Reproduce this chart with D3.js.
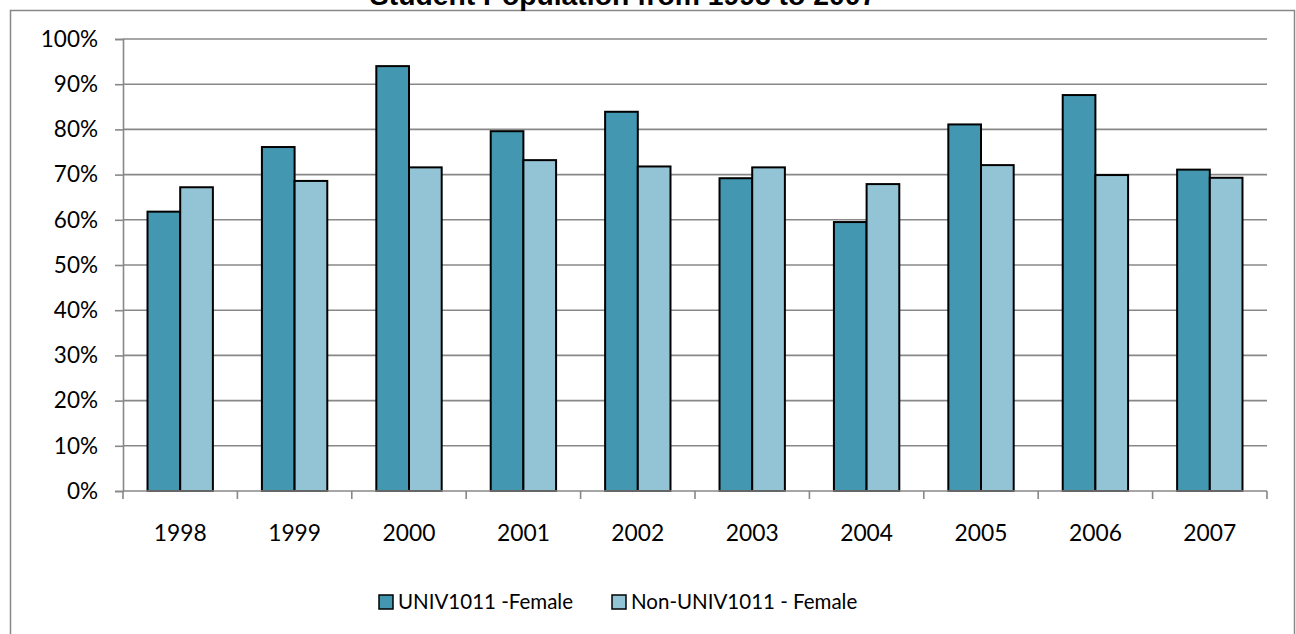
<!DOCTYPE html>
<html>
<head>
<meta charset="utf-8">
<script src="https://cdn.jsdelivr.net/npm/d3@7"></script>
<style>
  html, body { margin: 0; padding: 0; background: #fff; }
  svg { display: block; }
</style>
</head>
<body>
<svg id="chart" width="1296" height="634"></svg>
<script>
// Female share of the student population, by year
const years = ["1998","1999","2000","2001","2002","2003","2004","2005","2006","2007"];
const univFemale    = [0.618, 0.761, 0.940, 0.796, 0.839, 0.692, 0.595, 0.811, 0.876, 0.711];
const nonUnivFemale = [0.672, 0.686, 0.716, 0.732, 0.718, 0.716, 0.679, 0.721, 0.699, 0.693];
const seriesNames = ["UNIV1011 -Female", "Non-UNIV1011 - Female"];
const seriesColors = ["#4397b0", "#93c4d5"];
const yTicks = [0, 0.1, 0.2, 0.3, 0.4, 0.5, 0.6, 0.7, 0.8, 0.9, 1.0];

const svg = d3.select("#chart");
const plot = { left: 123, right: 1267, top: 39, bottom: 491 };
const labelFont = "Lato, 'Open Sans', sans-serif";

// outer chart frame
svg.append("rect")
  .attr("x", 10.5).attr("y", 10.5)
  .attr("width", 1284).attr("height", 640)
  .attr("fill", "#fff").attr("stroke", "#888").attr("stroke-width", 1.5);

// title (sits above the frame)
svg.append("text")
  .attr("x", 623).attr("y", 5)
  .attr("text-anchor", "middle")
  .attr("font-family", "'Liberation Sans', Arial, sans-serif")
  .attr("font-weight", "bold").attr("font-size", 28.3)
  .text("Student Population from 1998 to 2007");

const x0 = d3.scaleBand()
  .domain(years)
  .range([plot.left, plot.right])
  .paddingInner(1.5 / 3.5)
  .paddingOuter(0.75 / 3.5);

const x1 = d3.scaleBand()
  .domain([0, 1])
  .range([0, x0.bandwidth()]);

const y = d3.scaleLinear().domain([0, 1]).range([plot.bottom, plot.top]);

// horizontal gridlines
svg.append("g")
  .selectAll("line")
  .data(yTicks.slice(1))
  .join("line")
  .attr("x1", plot.left).attr("x2", plot.right)
  .attr("y1", d => y(d)).attr("y2", d => y(d))
  .attr("stroke", "#888").attr("stroke-width", 1.6);

// y axis
const yAxis = svg.append("g")
  .attr("transform", `translate(${plot.left},0)`)
  .call(d3.axisLeft(y).tickValues(yTicks).tickFormat(d3.format(".0%")).tickSize(8).tickPadding(17));
yAxis.select(".domain").attr("stroke", "#888").attr("stroke-width", 1.6);
yAxis.selectAll(".tick line").attr("stroke", "#888").attr("stroke-width", 1.6);
yAxis.selectAll(".tick text")
  .attr("font-family", labelFont).attr("font-size", 22.5).attr("fill", "#000");

// bars
const rows = years.map((yr, i) => ({ year: yr, values: [univFemale[i], nonUnivFemale[i]] }));
svg.append("g")
  .selectAll("g")
  .data(rows)
  .join("g")
  .attr("transform", d => `translate(${x0(d.year)},0)`)
  .selectAll("rect")
  .data(d => d.values.map((v, s) => ({ v, s })))
  .join("rect")
  .attr("x", d => x1(d.s))
  .attr("width", x1.bandwidth())
  .attr("y", d => y(d.v))
  .attr("height", d => y(0) - y(d.v))
  .attr("fill", d => seriesColors[d.s])
  .attr("stroke", "#000").attr("stroke-width", 2);

// x axis: labels centred on categories, ticks on category boundaries
const xAxis = svg.append("g")
  .attr("transform", `translate(0,${plot.bottom})`)
  .call(d3.axisBottom(x0).tickSize(0).tickPadding(34));
xAxis.select(".domain").remove();
xAxis.selectAll(".tick text")
  .attr("font-family", labelFont).attr("font-size", 22.8).attr("fill", "#000");

const step = x0.step();
const boundaries = d3.range(years.length + 1).map(i => plot.left + i * step);
const xAxisLine = svg.append("g").attr("transform", `translate(0,${plot.bottom})`);
xAxisLine.append("line")
  .attr("x1", plot.left).attr("x2", plot.right)
  .attr("stroke", "#888").attr("stroke-width", 1.6);
xAxisLine.selectAll("line.tk")
  .data(boundaries)
  .join("line").attr("class", "tk")
  .attr("x1", d => d).attr("x2", d => d)
  .attr("y1", 0).attr("y2", 8)
  .attr("stroke", "#888").attr("stroke-width", 1.6);

// legend
const legendItems = [
  { name: seriesNames[0], color: seriesColors[0], x: 379 },
  { name: seriesNames[1], color: seriesColors[1], x: 612 }
];
const legend = svg.append("g");
const li = legend.selectAll("g").data(legendItems).join("g")
  .attr("transform", d => `translate(${d.x},595)`);
li.append("rect")
  .attr("width", 14).attr("height", 14)
  .attr("fill", d => d.color).attr("stroke", "#000").attr("stroke-width", 1.5);
li.append("text")
  .attr("x", 19).attr("y", 14)
  .attr("font-family", labelFont).attr("font-size", 20.5).attr("fill", "#000")
  .text(d => d.name);
</script>
</body>
</html>
